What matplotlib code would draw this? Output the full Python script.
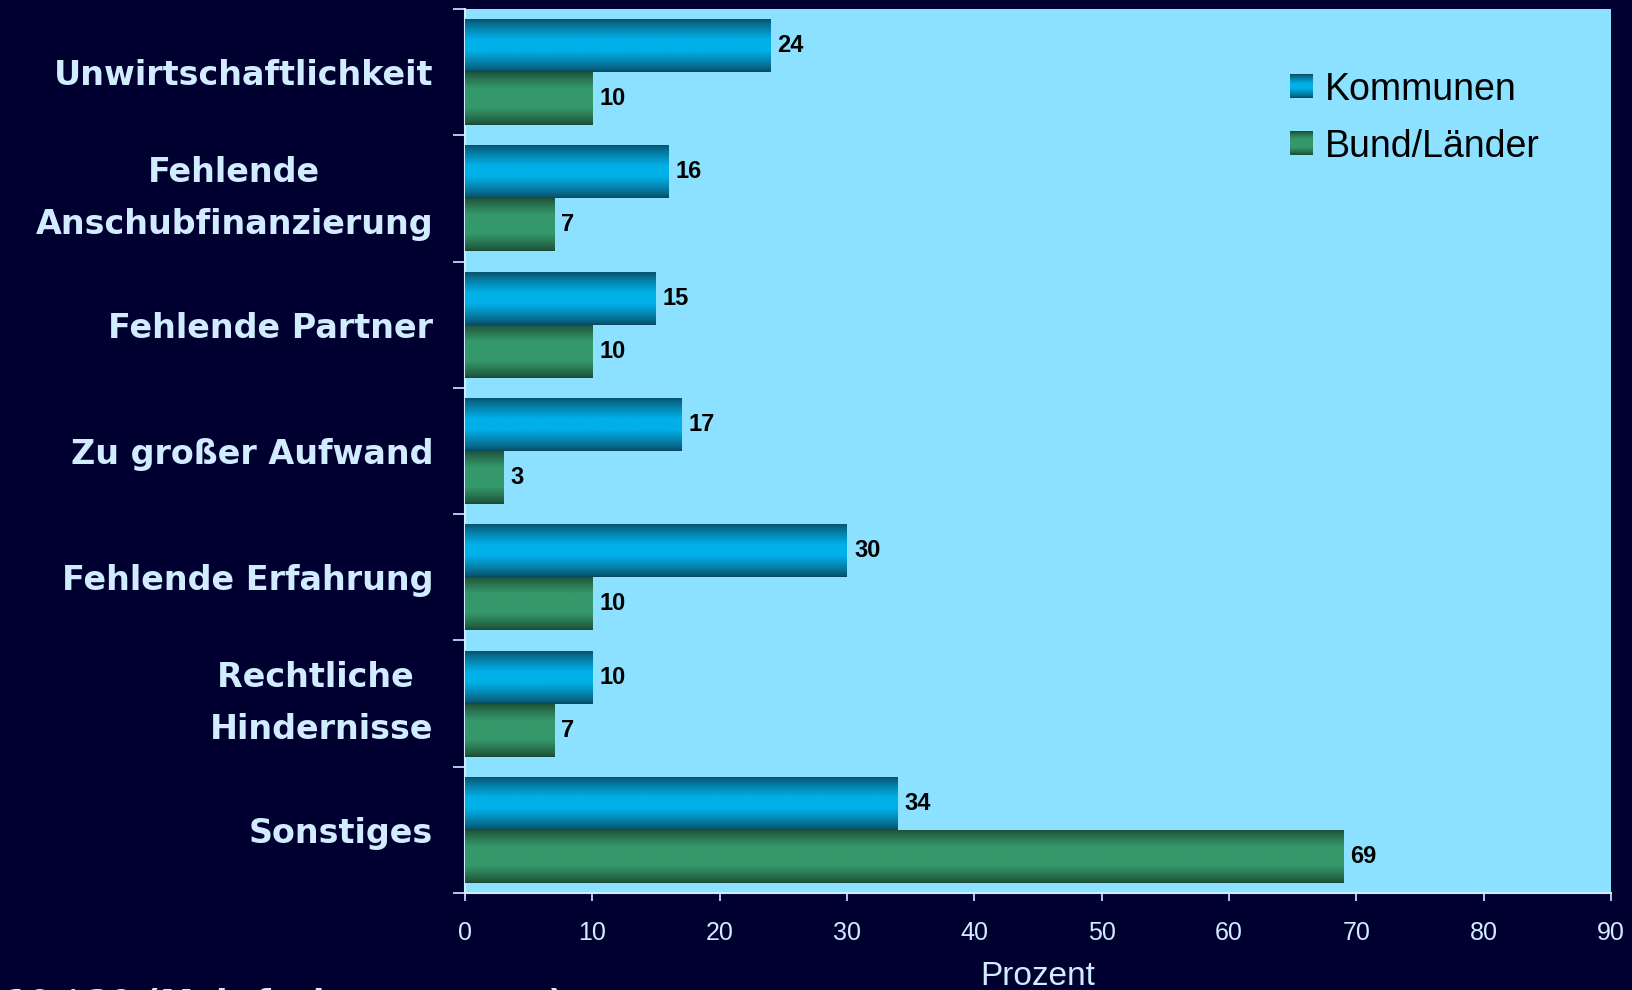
import numpy as np
import matplotlib
matplotlib.use("Agg")
import matplotlib.pyplot as plt
from matplotlib.colors import to_rgb

# ---------------- data ----------------
categories = [
    "Unwirtschaftlichkeit",
    "Fehlende\nAnschubfinanzierung",
    "Fehlende Partner",
    "Zu großer Aufwand",
    "Fehlende Erfahrung",
    "Rechtliche \nHindernisse",
    "Sonstiges",
]
kommunen = [24, 16, 15, 17, 30, 10, 34]
bund_laender = [10, 7, 10, 3, 10, 7, 69]
series_names = ["Kommunen", "Bund/Länder"]
x_ticks = [0, 10, 20, 30, 40, 50, 60, 70, 80, 90]
footnote = "10 / 39 (Mehrfachnennungen)"
x_label = "Prozent"

# ---------------- style ----------------
W, H, DPI = 1632, 990, 100
BG = "#000030"
PLOT_BG = "#8be1ff"
LIGHT = "#d2ecff"
BLUE = ("#0a4258", "#00b0e8", 0.20)
GREEN = ("#1a4430", "#34986a", 0.35)


def gradient(style, n=200):
    edge, mid, plateau = style
    t = np.linspace(0, 1, n)
    d = np.abs(2 * t - 1)
    w = np.clip((1 - d) / (1 - plateau), 0, 1)
    w = np.sqrt(w) * 0.5 + w * 0.5
    e = np.array(to_rgb(edge))
    m = np.array(to_rgb(mid))
    g = e[None, :] * (1 - w[:, None]) + m[None, :] * w[:, None]
    return g[:, None, :]


fig = plt.figure(figsize=(W / DPI, H / DPI), dpi=DPI, facecolor=BG)
ax_l, ax_r = 465 / W, 1611 / W
ax_t, ax_b = 1 - 9 / H, 1 - 893 / H
ax = fig.add_axes([ax_l, ax_b, ax_r - ax_l, ax_t - ax_b])
ax.set_facecolor(PLOT_BG)

n = len(categories)
ypos = np.arange(n)[::-1].astype(float)   # first category at top
bh = 0.42

bars_k = ax.barh(ypos + bh / 2, kommunen, height=bh, color=BLUE[1], zorder=2)
bars_b = ax.barh(ypos - bh / 2, bund_laender, height=bh, color=GREEN[1], zorder=2)

for bars, style in ((bars_k, BLUE), (bars_b, GREEN)):
    g = gradient(style)
    for p in bars:
        x0, y0 = p.get_x(), p.get_y()
        im = ax.imshow(g, extent=[x0, x0 + p.get_width(), y0, y0 + p.get_height()],
                       aspect="auto", interpolation="bilinear", zorder=3)
        im.set_clip_path(p)
        p.set_facecolor("none")

for bars, vals in ((bars_k, kommunen), (bars_b, bund_laender)):
    for p, v in zip(bars, vals):
        ax.annotate(f"{v}", xy=(p.get_x() + p.get_width(), p.get_y() + p.get_height() / 2),
                    xytext=(5, 0), textcoords="offset points", ha="left", va="center",
                    fontsize=17, fontweight="bold", family="Liberation Sans", color="black",
                    zorder=4)

ax.set_xlim(0, 90)
ax.set_ylim(-0.5, n - 0.5)
ax.set_xticks(x_ticks)
ax.set_xticklabels([str(t) for t in x_ticks])

# y: boundary ticks as major, labels on minor
ax.set_yticks(np.arange(-0.5, n, 1.0))
ax.set_yticklabels([])
ax.set_yticks(ypos, minor=True)
ax.set_yticklabels(categories, minor=True)
ax.tick_params(axis="y", which="major", length=8.6, width=1.2, color=LIGHT, direction="out")
ax.tick_params(axis="y", which="minor", length=0, pad=23, labelcolor=LIGHT)
for lbl in ax.get_yticklabels(minor=True):
    lbl.set_fontsize(24)
    lbl.set_fontweight("bold")
    lbl.set_family("DejaVu Sans")
    lbl.set_multialignment("center")
    if "\n" in lbl.get_text():
        lbl.set_linespacing(1.7)
        lbl.set_verticalalignment("center")

ax.tick_params(axis="x", length=5.8, width=1.2, color=LIGHT, direction="out",
               labelcolor=LIGHT, labelsize=18, pad=14)
for lbl in ax.get_xticklabels():
    lbl.set_family("Liberation Sans")

for s in ("top", "right"):
    ax.spines[s].set_visible(False)
for s in ("left", "bottom"):
    ax.spines[s].set_color(LIGHT)
    ax.spines[s].set_linewidth(1.5)

# legend (manual, with gradient swatches)
aw, ah = 1146, 884
for i, (name, style) in enumerate(zip(series_names, (BLUE, GREEN))):
    top_px = 74 + i * 57
    sw = ax.inset_axes([(1290 - 465) / aw, (893 - (top_px + 24)) / ah, 23 / aw, 24 / ah])
    sw.imshow(gradient(style), aspect="auto", interpolation="bilinear")
    sw.set_axis_off()
    ax.text((1325 - 465) / aw, (893 - (100 + i * 57)) / ah, name, transform=ax.transAxes,
            ha="left", va="baseline", fontsize=27, family="Liberation Sans", color="black")

fig.text((ax_l + ax_r) / 2, 1 - 961 / H, x_label, ha="center", va="top",
         fontsize=24, family="Liberation Sans", color=LIGHT)
fig.text(5 / W, 1 - 988 / H, footnote, ha="left", va="top",
         fontsize=24, fontweight="bold", family="DejaVu Sans", color=LIGHT)

fig.savefig("out.png", dpi=DPI, facecolor=BG)
